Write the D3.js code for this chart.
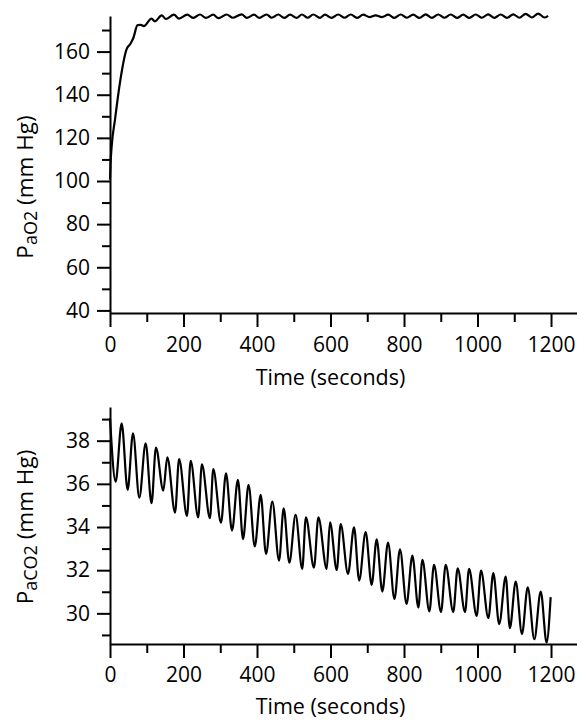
<!DOCTYPE html>
<html><head><meta charset="utf-8">
<script src="https://cdn.jsdelivr.net/npm/d3@7"></script>
<style>
body{margin:0;background:#fff}
svg{display:block}
text{font-family:"Open Sans",sans-serif;fill:#000}
</style>
</head><body>
<svg id="c" width="577" height="721"></svg>
<script>
// ---- data ----
const o2Time = [0,1.5,4.5,13.6,27,45,55,63.5,75,84,92,
  113,122,140.6,152,174,188,210,227,245,261,
  281,295,317.5,334,358,372,392,406,426,440,
  458,474,490,508,522,538,553,571,585,603,
  621,638,655,672,689,706,723,740,757,774,
  791,808,825,842,859,876,893,910,927,944,
  961,978,995,1012,1029,1046,1063,1080,1097,1114,
  1131,1148,1165,1182,1192];
const o2Value = [100.7,108,116,128.5,145.5,161,163.5,166.3,172.3,172.4,171.8,
  175.3,174.0,176.8,175.1,177.1,175.3,177.1,175.6,177.2,175.6,
  177.1,175.5,177.2,175.7,177.3,175.6,177.1,175.6,177.2,175.7,
  177.2,175.6,177.1,175.6,177.2,175.7,177.2,175.6,177.1,175.6,
  177.2,175.7,177.2,175.6,177.1,176.0,176.8,176.0,177.1,175.6,
  177.2,175.7,177.1,175.6,177.3,175.6,177.2,175.7,177.2,175.6,
  177.1,175.6,177.2,175.7,177.3,175.6,177.2,175.6,177.3,175.7,
  177.5,175.8,177.6,175.8,176.6];

const co2Time = [0,15.4,31.7,48,62.6,79.8,97,113,125,145,156,177,188,209.5,219.5,240,250,272,281,302,
  315.6,332,348,362,377,394,410,424.5,441.7,460,472.6,488,505,523,533,555,567,589.6,598.6,617,
  627.7,647.6,664,678,695.6,712,725.6,741,756.5,774,789,807,822.7,839,850,869,881.6,900.7,913.4,934,
  946,966,977,997.7,1009.5,1029.5,1043,1059,1076.7,1088,1104,1121,1136.6,1154.6,1172,1188,1199];
const co2Value = [39.04,36.1,38.8,35.72,38.34,35.36,37.88,35.1,37.68,35.69,37.23,34.67,37.15,34.51,37.07,34.44,36.9,34.41,36.68,34.2,
  36.49,33.83,36.18,33.44,35.95,33.1,35.49,32.75,35.18,32.44,34.87,32.35,34.56,32.06,34.45,32.12,34.45,32.06,34.22,32.01,
  34.13,31.83,33.99,31.52,33.77,31.32,33.43,31.01,33.28,30.67,32.97,30.44,32.68,30.27,32.48,30.09,32.25,30.06,32.25,30.06,
  32.09,30.06,32.06,29.88,31.98,29.78,31.86,29.5,31.7,29.31,31.47,29.04,31.21,28.8,31.01,28.65,30.75];

const xMajorTicks = [0,200,400,600,800,1000,1200];
const xMinorTicks = [100,300,500,700,900,1100];
const o2MajorTicks = [40,60,80,100,120,140,160];
const o2MinorTicks = [50,70,90,110,130,150,170];
const co2MajorTicks = [30,32,34,36,38];
const co2MinorTicks = [29,31,33,35,37,39];

const xTitle = "Time (seconds)";

// ---- drawing ----
const svg = d3.select("#c");
const x = d3.scaleLinear().domain([0,1270.7]).range([110,577]);
const fmt = d3.format("d");

function panel(cfg){
  const y = d3.scaleLinear().domain(cfg.yDomain).range(cfg.yRange);
  const y0 = cfg.yRange[0];
  const g = svg.append("g");

  // x axis
  const gx = g.append("g").attr("transform",`translate(0,${y0})`);
  gx.call(d3.axisBottom(x).tickValues(xMajorTicks).tickFormat(fmt).tickSize(14).tickPadding(cfg.xPad).tickSizeOuter(0));
  const gxm = g.append("g").attr("transform",`translate(0,${y0})`);
  gxm.call(d3.axisBottom(x).tickValues(xMinorTicks).tickSize(9).tickFormat(""));
  gxm.select(".domain").remove();

  // y axis
  const gy = g.append("g").attr("transform","translate(110,0)");
  gy.call(d3.axisLeft(y).tickValues(cfg.major).tickFormat(fmt).tickSize(13).tickPadding(7).tickSizeOuter(0));
  const gym = g.append("g").attr("transform","translate(110,0)");
  gym.call(d3.axisLeft(y).tickValues(cfg.minor).tickSize(8).tickFormat(""));
  gym.select(".domain").remove();

  g.selectAll(".domain, .tick line").attr("stroke","#000").attr("stroke-width",2);
  g.selectAll(".tick text").attr("font-family","'Open Sans',sans-serif").attr("font-size",21).attr("fill","#000");

  // line
  const pts = cfg.t.map((t,i)=>[t,cfg.v[i]]);
  g.append("path").datum(pts)
    .attr("fill","none").attr("stroke","#000").attr("stroke-width",2.2)
    .attr("stroke-linejoin","round")
    .attr("d", d3.line().x(d=>x(d[0])).y(d=>y(d[1])).curve(d3.curveMonotoneX));

  // x title
  g.append("text").attr("x",x(600)).attr("y",cfg.titleY).attr("text-anchor","middle")
    .attr("font-size",21.5).text(xTitle);

  // y title
  const yt = g.append("text").attr("transform",`translate(33,${cfg.yLabelC}) rotate(-90)`)
    .attr("text-anchor","middle").attr("font-size",22.5);
  yt.append("tspan").text("P");
  yt.append("tspan").attr("font-size",18).attr("dy",4).text(cfg.sub);
  yt.append("tspan").attr("dy",-4).text(" (mm Hg)");
}

panel({yDomain:[38.8,176.5], yRange:[313,16], major:o2MajorTicks, minor:o2MinorTicks,
  t:o2Time, v:o2Value, xPad:10, titleY:385, yLabelC:187, sub:"aO2"});
panel({yDomain:[28.58,39.56], yRange:[644,407], major:co2MajorTicks, minor:co2MinorTicks,
  t:co2Time, v:co2Value, xPad:9, titleY:714, yLabelC:527, sub:"aCO2"});
</script>
</body></html>
